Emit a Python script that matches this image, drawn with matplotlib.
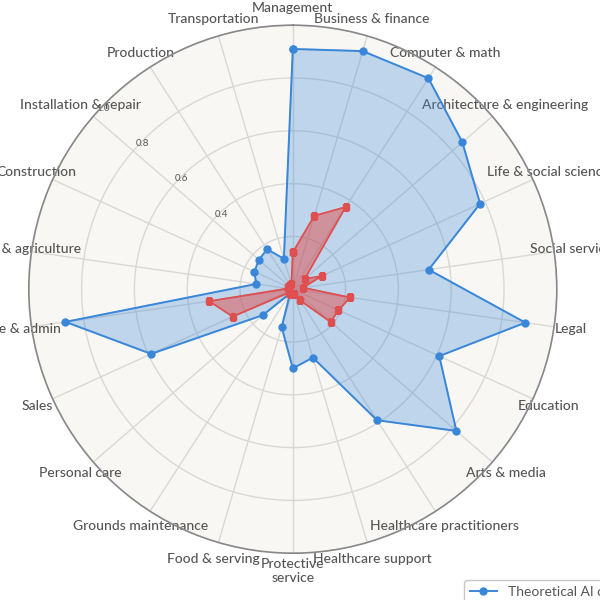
import numpy as np
import matplotlib
matplotlib.use("Agg")
import matplotlib.pyplot as plt

plt.rcParams['font.family'] = ['Lato', 'DejaVu Sans']

categories = ["Management", "Business & finance", "Computer & math", "Architecture & engineering",
              "Life & social science", "Social service", "Legal", "Education", "Arts & media",
              "Healthcare practitioners", "Healthcare support", "Protective\nservice", "Food & serving",
              "Grounds maintenance", "Personal care", "Sales", "Office & admin", "Farming & agriculture",
              "Construction", "Installation & repair", "Production", "Transportation"]
theoretical = [0.91, 0.94, 0.95, 0.85, 0.78, 0.52, 0.89, 0.61, 0.82, 0.59, 0.27, 0.30,
               0.15, 0.02, 0.15, 0.59, 0.87, 0.14, 0.16, 0.17, 0.18, 0.12]
observed = [0.14, 0.29, 0.37, 0.06, 0.12, 0.04, 0.22, 0.19, 0.19, 0.05, 0.02, 0.02,
            0.02, 0.02, 0.02, 0.25, 0.32, 0.02, 0.02, 0.02, 0.02, 0.02]
rticks = [0.2, 0.4, 0.6, 0.8, 1.0]
rlabels = ["", "0.4", "0.6", "0.8", "1.0"]

blue = "#3a87d9"
red = "#e04f4f"

n = len(categories)
ang = np.linspace(0, 2*np.pi, n, endpoint=False)
angc = np.append(ang, ang[0])

fig = plt.figure(figsize=(6, 6), dpi=100)
ax = fig.add_axes([0.048, 0.078, 0.88, 0.88], projection='polar')
ax.set_facecolor('#f8f7f4')
ax.set_theta_zero_location('N')
ax.set_theta_direction(-1)

t = np.append(theoretical, theoretical[0])
o = np.append(observed, observed[0])
ax.fill(angc, t, color=blue, alpha=0.3, zorder=2)
ax.plot(angc, t, color=blue, lw=1.4, marker='o', ms=5, zorder=3, label="Theoretical AI coverage")
ax.fill(angc, o, color=red, alpha=0.5, zorder=4)
ax.plot(angc, o, color=red, lw=1.2, marker='s', ms=4.5, zorder=5, label="Observed AI coverage")

ax.set_ylim(0, 1.0)
ax.set_yticks(rticks)
ax.set_yticklabels(rlabels, fontsize=7, color='#555555')
ax.set_rlabel_position(312)
ax.set_xticks(ang)
ax.set_xticklabels(categories, fontsize=10, color='#555555', fontweight='medium')
ax.tick_params(axis='x', pad=2)
ax.grid(color='#d8d8d4', lw=1)
ax.spines['polar'].set_color('#888888')
ax.spines['polar'].set_linewidth(1.2)

fig.legend(loc='upper left', bbox_to_anchor=(457/600, 1 - 573/600), fontsize=10,
           frameon=True, edgecolor='#bbbbbb', labelcolor='#555555')
fig.savefig("out.png", dpi=100, facecolor='white')
